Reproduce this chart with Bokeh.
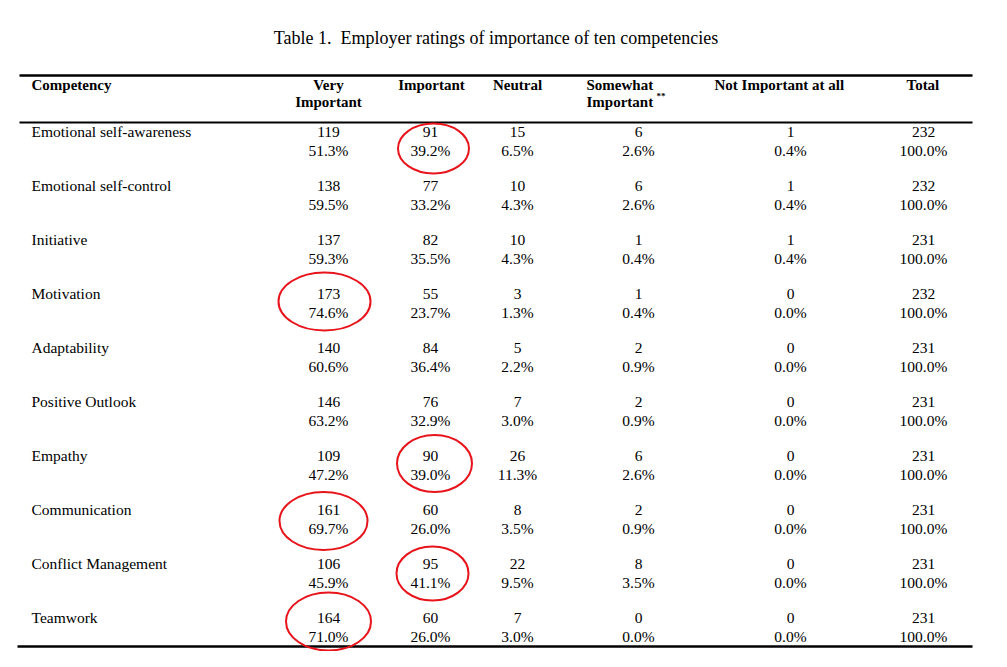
from bokeh.plotting import figure
from bokeh.models import Range1d, ColumnDataSource
from bokeh.core.properties import value
from bokeh.embed import file_html
from bokeh.resources import INLINE

# ---------------- data ----------------
title = "Table 1.\u00a0 Employer ratings of importance of ten competencies"
competencies = ["Emotional self-awareness", "Emotional self-control", "Initiative",
                "Motivation", "Adaptability", "Positive Outlook", "Empathy",
                "Communication", "Conflict Management", "Teamwork"]
very_important = [119, 138, 137, 173, 140, 146, 109, 161, 106, 164]
very_important_pct = [51.3, 59.5, 59.3, 74.6, 60.6, 63.2, 47.2, 69.7, 45.9, 71.0]
important = [91, 77, 82, 55, 84, 76, 90, 60, 95, 60]
important_pct = [39.2, 33.2, 35.5, 23.7, 36.4, 32.9, 39.0, 26.0, 41.1, 26.0]
neutral = [15, 10, 10, 3, 5, 7, 26, 8, 22, 7]
neutral_pct = [6.5, 4.3, 4.3, 1.3, 2.2, 3.0, 11.3, 3.5, 9.5, 3.0]
somewhat = [6, 6, 1, 1, 2, 2, 6, 2, 8, 0]
somewhat_pct = [2.6, 2.6, 0.4, 0.4, 0.9, 0.9, 2.6, 0.9, 3.5, 0.0]
not_important = [1, 1, 1, 0, 0, 0, 0, 0, 0, 0]
not_important_pct = [0.4, 0.4, 0.4, 0.0, 0.0, 0.0, 0.0, 0.0, 0.0, 0.0]
total = [232, 232, 231, 232, 231, 231, 231, 231, 231, 231]
total_pct = [100.0, 100.0, 100.0, 100.0, 100.0, 100.0, 100.0, 100.0, 100.0, 100.0]

# highlighted (circled) cells: (row index, column key)
highlights = [(0, "imp"), (3, "very"), (6, "imp"), (7, "very"), (8, "imp"), (9, "very")]

# ---------------- layout / style ----------------
FONT = value("Liberation Serif")
W, H = 991, 651
p = figure(width=W, height=H, x_range=Range1d(0, W), y_range=Range1d(H, 0),
           output_backend="svg", toolbar_location=None, min_border=0,
           x_axis_location=None, y_axis_location=None)
p.grid.visible = False
p.outline_line_color = None

col_x = {"very": 328, "imp": 430, "neu": 517, "some": 638, "not": 790, "tot": 923}
cols = [("very", very_important, very_important_pct),
        ("imp", important, important_pct),
        ("neu", neutral, neutral_pct),
        ("some", somewhat, somewhat_pct),
        ("not", not_important, not_important_pct),
        ("tot", total, total_pct)]
ROW0, ROWSTEP, PCTGAP = 131, 54, 19
CELL_MID = 11.5          # from count baseline to the middle of the two-line cell
label_x = 31
HB1, HB2 = 84.5, 101     # header line baselines

# title
p.text(x=[495.5], y=[37.5], text=[title], text_font=FONT, text_font_size="18px",
       text_align="center", text_baseline="alphabetic", text_color="black")

# rules
p.segment(x0=[19, 19, 17], x1=[972, 972, 972], y0=[75, 122, 646], y1=[75, 122, 646],
          line_color="black", line_width=[2.5, 2, 2.5])

# header
hdr = dict(x=[], y=[], t=[], a=[])
def h(x, y, t, a):
    hdr["x"].append(x); hdr["y"].append(y); hdr["t"].append(t); hdr["a"].append(a)
h(31, HB1, "Competency", "left")
h(328, HB1, "Very", "center")
h(328, HB2, "Important", "center")
h(431, HB1, "Important", "center")
h(517, HB1, "Neutral", "center")
h(586, HB1, "Somewhat", "left")
h(586, HB2, "Important", "left")
h(714, HB1, "Not Important at all", "left")
h(906, HB1, "Total", "left")
p.text(x="x", y="y", text="t", text_align="a", source=ColumnDataSource(hdr),
       text_font=FONT, text_font_size="15px", text_font_style="bold",
       text_baseline="alphabetic", text_color="black")
p.text(x=[656], y=[HB2 - 6], text=["**"], text_font=FONT, text_font_size="9px",
       text_font_style="bold", text_align="left", text_baseline="alphabetic",
       text_color="black")

# body
lab = dict(x=[label_x] * len(competencies),
           y=[ROW0 + i * ROWSTEP for i in range(len(competencies))],
           t=competencies)
p.text(x="x", y="y", text="t", source=ColumnDataSource(lab), text_font=FONT,
       text_font_size="15.5px", text_align="left", text_baseline="alphabetic",
       text_color="black")

cells = dict(x=[], y=[], t=[])
for key, counts, pcts in cols:
    for i, (c, pc) in enumerate(zip(counts, pcts)):
        base = ROW0 + i * ROWSTEP
        cells["x"] += [col_x[key], col_x[key]]
        cells["y"] += [base, base + PCTGAP]
        cells["t"] += [str(c), f"{pc:.1f}%"]
p.text(x="x", y="y", text="t", source=ColumnDataSource(cells), text_font=FONT,
       text_font_size="15.5px", text_align="center", text_baseline="alphabetic",
       text_color="black")

# hand-drawn red ellipses: per-highlight offsets and sizes (style)
ell_style = [(3, 5.5, 71, 50), (-4, -3.5, 92, 58), (4, -3.5, 75, 57),
             (-5, 0, 88, 58), (2, -1.5, 72, 54), (0, -7.5, 85, 58)]
ex, ey, ew, eh = [], [], [], []
for (r, key), (dx, dy, w, hh) in zip(highlights, ell_style):
    ex.append(col_x[key] + dx)
    ey.append(ROW0 + r * ROWSTEP + CELL_MID + dy)
    ew.append(w); eh.append(hh)
p.ellipse(x=ex, y=ey, width=ew, height=eh, fill_color=None, line_color="#e8141b",
          line_width=2)

open("out.html", "w").write(file_html(p, INLINE))
